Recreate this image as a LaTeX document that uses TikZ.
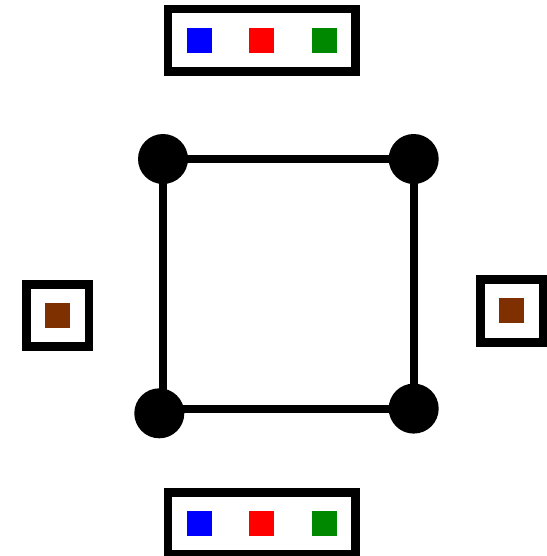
\documentclass[tikz,border=0pt]{standalone}
\usepackage{xcolor}
\usepackage{tikz}
\definecolor{swblue}{HTML}{0000FF}
\definecolor{swred}{HTML}{FF0000}
\definecolor{swgreen}{HTML}{008800}
\definecolor{swbrown}{HTML}{7F3000}
\begin{document}
\begin{tikzpicture}[
  x=1pt, y=-1pt,
  caixa/.style={rectangle, draw=black, line width=8.5pt, fill=white, inner sep=0pt},
  amostra/.style={rectangle, inner sep=0pt, minimum size=25pt},
  vertice/.style={circle, fill=black, inner sep=0pt, minimum size=50pt},
  aresta/.style={line width=8pt, draw=black}
]
  \useasboundingbox (0,0) rectangle (546,556);

  % corners of the square
  \node[vertice] (tl) at (163,159) {};
  \node[vertice] (tr) at (413.7,159) {};
  \node[vertice] (br) at (413.7,408.6) {};
  \node[vertice] (bl) at (159.3,413.3) {};

  \draw[aresta] (tl.center) -- (tr.center) -- (br.center) -- (br.center -| bl.center);
  \draw[aresta] (tl.center) -- (tl.center |- bl.center);

  % palettes above and below
  \node[caixa, minimum width=187.5pt, minimum height=62.3pt] (paltop) at (261.5,40.3) {};
  \node[amostra, fill=swblue] (topblue) at (199,40.2) {};
  \node[amostra, fill=swred] (topred) at (261.7,40.2) {};
  \node[amostra, fill=swgreen] (topgreen) at (324,40.2) {};

  \node[caixa, minimum width=187.5pt, minimum height=62pt] (palbot) at (261.5,523.5) {};
  \node[amostra, fill=swblue] (botblue) at (199,523.3) {};
  \node[amostra, fill=swred] (botred) at (261.7,523.3) {};
  \node[amostra, fill=swgreen] (botgreen) at (324,523.3) {};

  % single swatches left and right
  \node[caixa, minimum width=62.5pt, minimum height=62.2pt] (palleft) at (57.5,315.4) {};
  \node[amostra, fill=swbrown] (leftbrown) at (57.5,315.2) {};

  \node[caixa, minimum width=62.5pt, minimum height=62.6pt] (palright) at (511.5,311) {};
  \node[amostra, fill=swbrown] (rightbrown) at (511.5,310.8) {};
\end{tikzpicture}
\end{document}
